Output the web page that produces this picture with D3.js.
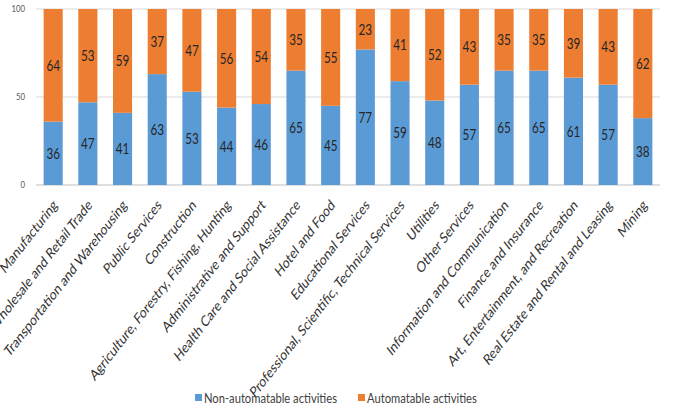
<!DOCTYPE html>
<html>
<head>
<meta charset="utf-8">
<script src="https://cdn.jsdelivr.net/npm/d3@7"></script>
<style>
  body { margin: 0; background: #fff; }
  svg text { font-family: Lato, "Open Sans", sans-serif; }
</style>
</head>
<body>
<svg id="chart" width="674" height="415"></svg>
<script>
const categories = [
  "Manufacturing", "Wholesale and Retail Trade", "Transportation and Warehousing",
  "Public Services", "Construction", "Agriculture, Forestry, Fishing, Hunting",
  "Administrative and Support", "Health Care and Social Assistance", "Hotel and Food",
  "Educational Services", "Professional, Scientific, Technical Services", "Utilities",
  "Other Services", "Information and Communication", "Finance and Insurance",
  "Art, Entertainment, and Recreation", "Real Estate and Rental and Leasing", "Mining"
];
const nonAutomatable = [36, 47, 41, 63, 53, 44, 46, 65, 45, 77, 59, 48, 57, 65, 65, 61, 57, 38];
const automatable = [64, 53, 59, 37, 47, 56, 54, 35, 55, 23, 41, 52, 43, 35, 35, 39, 43, 62];
const seriesNames = ["Non-automatable activities", "Automatable activities"];
const seriesColors = ["#5b9bd5", "#ed7d31"];
const yTicks = [0, 50, 100];

// the source image is squeezed horizontally, so text is drawn narrower
const squeeze = 0.78;

const svg = d3.select("#chart");
const margin = { top: 9, right: 14, left: 36 };
const width = 674;

const x = d3.scaleBand()
  .domain(categories)
  .range([margin.left, width - margin.right])
  .paddingInner(0.45)
  .paddingOuter(0.22);

const y = d3.scaleLinear()
  .domain([0, 100])
  .range([185, margin.top]);

// gridlines
svg.append("g")
  .selectAll("line")
  .data(yTicks)
  .enter()
  .append("line")
  .attr("x1", margin.left)
  .attr("x2", width - margin.right)
  .attr("y1", d => y(d))
  .attr("y2", d => y(d))
  .attr("stroke", d => d === 0 ? "#bfbfbf" : "#d9d9d9")
  .attr("stroke-width", 1);

svg.append("g")
  .selectAll("text")
  .data(yTicks)
  .enter()
  .append("text")
  .attr("transform", d => `translate(25,${y(d)}) scale(${squeeze},1)`)
  .attr("dy", "0.32em")
  .attr("text-anchor", "end")
  .attr("font-size", 10)
  .attr("fill", "#595959")
  .text(d => d);

const rows = categories.map((c, i) => ({ cat: c, a: nonAutomatable[i], b: automatable[i] }));

const stack = d3.stack().keys(["a", "b"]);
const layers = stack(rows);

const g = svg.append("g");
layers.forEach((layer, li) => {
  g.selectAll(".s" + li)
    .data(layer)
    .enter()
    .append("rect")
    .attr("x", d => x(d.data.cat))
    .attr("width", x.bandwidth())
    .attr("y", d => y(d[1]))
    .attr("height", d => y(d[0]) - y(d[1]))
    .attr("fill", seriesColors[li]);

  g.selectAll(".l" + li)
    .data(layer)
    .enter()
    .append("text")
    .attr("transform", d => `translate(${x(d.data.cat) + x.bandwidth() / 2},${y((d[0] + d[1]) / 2)}) scale(${squeeze},1)`)
    .attr("dy", "0.35em")
    .attr("text-anchor", "middle")
    .attr("font-size", 15)
    .attr("fill", "#262626")
    .text(d => d[1] - d[0]);
});

// category labels
svg.append("g")
  .selectAll("text")
  .data(categories)
  .enter()
  .append("text")
  .attr("transform", d => `translate(${x(d) + x.bandwidth() / 2 + 5},${206}) scale(${squeeze},1) rotate(-45)`)
  .attr("text-anchor", "end")
  .attr("font-size", 15)
  .attr("fill", "#333")
  .text(d => d);

// legend
const legendX = [195, 358];
const legend = svg.append("g");
seriesNames.forEach((name, i) => {
  legend.append("rect")
    .attr("x", legendX[i])
    .attr("y", 394)
    .attr("width", 7)
    .attr("height", 7)
    .attr("fill", seriesColors[i]);
  legend.append("text")
    .attr("transform", `translate(${legendX[i] + 9},398) scale(0.8,1)`)
    .attr("dy", "0.35em")
    .attr("font-size", 14)
    .attr("fill", "#404040")
    .text(name);
});
</script>
</body>
</html>
